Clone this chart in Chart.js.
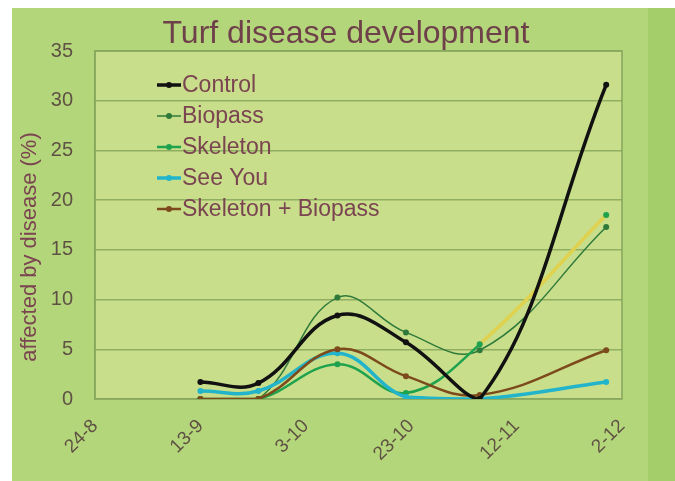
<!DOCTYPE html>
<html>
<head>
<meta charset="utf-8">
<title>Turf disease development</title>
<script src="https://cdn.jsdelivr.net/npm/chart.js@4.4.1/dist/chart.umd.min.js"></script>
<style>
    html, body { margin: 0; padding: 0; background: #ffffff; }
    #wrap { width: 675px; height: 481px; }
</style>
</head>
<body>
<div id="wrap"><canvas id="disease-chart" width="675" height="481"></canvas></div>
<script>
// Axis labels (day-month)
const tickDates = ['24-8', '13-9', '3-10', '23-10', '12-11', '2-12'];
const sampleDates = ['13-9', '24-9', '9-10', '22-10', '5-11', '29-11'];

// Series values, % of turf affected
const seriesNames = ['Control', 'Biopass', 'Skeleton', 'See You', 'Skeleton + Biopass'];
const control = [1.7, 1.6, 8.4, 5.7, 0, 31.6];
const biopass = [0, 0, 10.2, 6.7, 4.9, 17.3];
const skeleton = [0, 0, 3.5, 0.6, 5.5, 18.5];
const seeYou = [0.8, 0.8, 4.6, 0.2, 0, 1.7];
const skeletonBiopass = [0, 0, 5.0, 2.3, 0.4, 4.9];

const chartTitle = 'Turf disease development';
const yTitle = 'affected by disease (%)';

const FONT = "'Liberation Sans', Arial, sans-serif";
const TEXT_RED = '#7a4450';

/**
 * Days since the first tick date (24-8)
 */
function dayOf(label) {
    const [d, m] = label.split('-').map(Number);
    return (Date.UTC(2010, m - 1, d) - Date.UTC(2010, 7, 24)) / 86400000;
}

function toPoints(values) {
    return values.map((v, i) => ({ x: dayOf(sampleDates[i]), y: v }));
}

// Green poster background + lighter plot area
const backgroundPlugin = {
    id: 'posterBackground',
    beforeDraw(chart) {
        const { ctx, width, height, chartArea: a } = chart;
        ctx.save();
        ctx.fillStyle = '#ffffff';
        ctx.fillRect(0, 0, width, height);
        ctx.fillStyle = '#b4d67a';
        ctx.fillRect(12, 8, width - 12, height - 8);
        ctx.fillStyle = '#a4ce6a';
        ctx.fillRect(648, 8, width - 648, height - 8);
        ctx.fillStyle = '#c8de8a';
        ctx.fillRect(a.left, a.top, a.right - a.left, a.bottom - a.top);
        ctx.restore();
    },
    beforeDatasetsDraw(chart) {
        const { ctx, chartArea: a } = chart;
        ctx.save();
        ctx.strokeStyle = '#86a65c';
        ctx.lineWidth = 1.5;
        ctx.strokeRect(a.left, a.top, a.right - a.left, a.bottom - a.top);
        ctx.restore();
    }
};

// Titles placed like the original (not centred on the plot)
const titlesPlugin = {
    id: 'posterTitles',
    afterDraw(chart) {
        const { ctx, chartArea: a } = chart;
        ctx.save();
        ctx.fillStyle = '#6e404a';
        ctx.font = '32px ' + FONT;
        ctx.textAlign = 'center';
        ctx.textBaseline = 'alphabetic';
        ctx.fillText(chartTitle, 346, 43);

        ctx.fillStyle = TEXT_RED;
        ctx.font = '22px ' + FONT;
        ctx.textBaseline = 'middle';
        ctx.translate(30, a.top + 196);
        ctx.rotate(-Math.PI / 2);
        ctx.fillText(yTitle, 0, 0);
        ctx.restore();
    }
};

// Legend drawn inside the plot, top left
const insideLegendPlugin = {
    id: 'insideLegend',
    afterDatasetsDraw(chart) {
        const { ctx, chartArea: a } = chart;
        ctx.save();
        ctx.font = '23px ' + FONT;
        ctx.textBaseline = 'middle';
        ctx.textAlign = 'left';
        chart.data.datasets.forEach((ds, i) => {
            const y = a.top + 34 + i * 31;
            const x0 = a.left + 62;
            ctx.strokeStyle = ds.borderColor;
            ctx.lineWidth = ds.borderWidth;
            ctx.beginPath();
            ctx.moveTo(x0, y);
            ctx.lineTo(x0 + 24, y);
            ctx.stroke();
            ctx.fillStyle = ds.pointBackgroundColor;
            ctx.beginPath();
            ctx.arc(x0 + 12, y, 3, 0, Math.PI * 2);
            ctx.fill();
            ctx.fillStyle = TEXT_RED;
            ctx.fillText(ds.label, x0 + 25, y + 1);
        });
        ctx.restore();
    }
};

const colors = ['#111111', '#2f7a3a', '#1ea24e', '#22b4cb', '#7d4a1c'];
const widths = [3.5, 1.5, 2.5, 3.5, 2.5];
const drawOrder = [0, 4, 3, 2, 1];   // control on top, then later series over earlier
const values = [control, biopass, skeleton, seeYou, skeletonBiopass];

const datasets = seriesNames.map((name, i) => ({
    label: name,
    data: toPoints(values[i]),
    order: drawOrder[i],
    borderColor: colors[i],
    backgroundColor: colors[i],
    pointBackgroundColor: colors[i],
    pointBorderColor: colors[i],
    borderWidth: widths[i],
    pointRadius: 3,
    pointBorderWidth: 0,
    tension: 0.4,
    fill: false
}));

// Skeleton's last stretch shows up yellow in the original
datasets[2].segment = {
    borderColor: c => (c.p1DataIndex === sampleDates.length - 1 ? '#e0d24e' : undefined),
    borderWidth: c => (c.p1DataIndex === sampleDates.length - 1 ? 3.5 : undefined)
};

const ctx = document.getElementById('disease-chart').getContext('2d');

new Chart(ctx, {
    type: 'line',
    data: { datasets },
    options: {
        responsive: false,
        animation: false,
        layout: { padding: { left: 12, right: 53, top: 51, bottom: 0 } },
        plugins: {
            legend: { display: false },
            tooltip: { enabled: false },
            title: { display: false }
        },
        scales: {
            x: {
                type: 'linear',
                min: 0,
                max: dayOf(tickDates[tickDates.length - 1]),
                afterBuildTicks: scale => {
                    scale.ticks = tickDates.map(t => ({ value: dayOf(t) }));
                },
                afterFit: scale => { scale.height = 82; },
                grid: { display: false },
                border: { display: false },
                ticks: {
                    autoSkip: false,
                    minRotation: 45,
                    maxRotation: 45,
                    padding: 8,
                    color: '#5f5244',
                    font: { family: FONT, size: 19 },
                    callback: (value, index) => tickDates[index]
                }
            },
            y: {
                min: 0,
                max: 35,
                afterFit: scale => { scale.width = 83; },
                grid: {
                    color: '#8fae62',
                    lineWidth: 1.5,
                    drawTicks: false
                },
                border: { color: '#86a65c', width: 1.5 },
                ticks: {
                    stepSize: 5,
                    padding: 22,
                    color: '#5f5244',
                    font: { family: FONT, size: 20 }
                }
            }
        }
    },
    plugins: [backgroundPlugin, titlesPlugin, insideLegendPlugin]
});
</script>
</body>
</html>
